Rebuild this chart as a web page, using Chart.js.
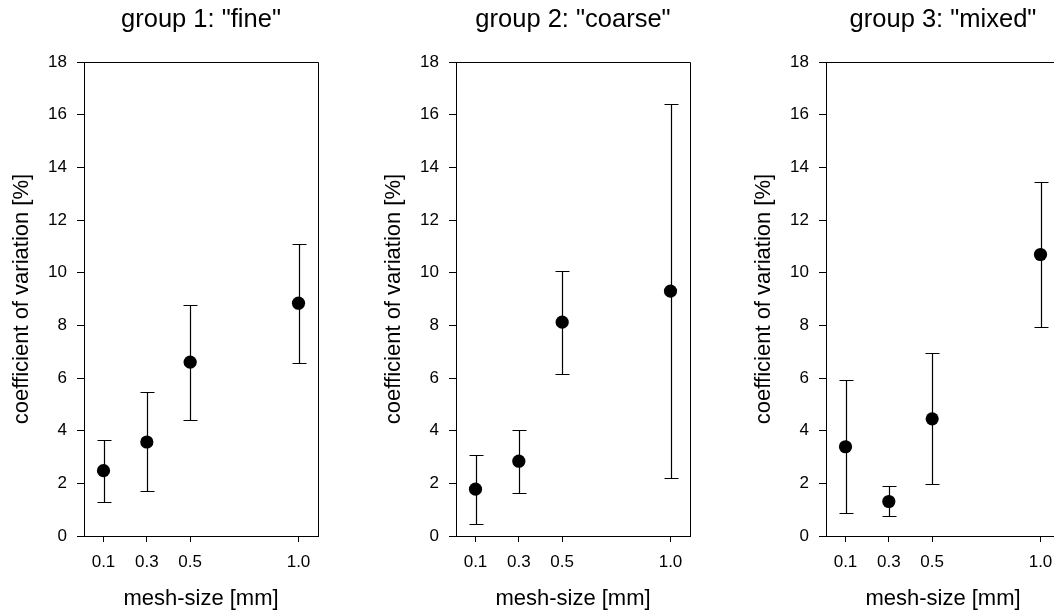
<!DOCTYPE html>
<html>
<head>
<meta charset="utf-8">
<script src="https://cdn.jsdelivr.net/npm/chart.js@4.4.1/dist/chart.umd.min.js"></script>
<style>
  html, body { margin: 0; padding: 0; background: #fff; overflow: hidden; }
  #wrap { position: relative; width: 1054px; height: 616px; overflow: hidden; }
  .panel { position: absolute; top: 0; width: 372px; height: 616px; }
</style>
</head>
<body>
<div id="wrap">
  <div class="panel" style="left:0px"><canvas id="group1"></canvas></div>
  <div class="panel" style="left:372px"><canvas id="group2"></canvas></div>
  <div class="panel" style="left:742px"><canvas id="group3"></canvas></div>
</div>
<script>
// mesh sizes on the x axis (also the tick positions)
const meshSizes = [0.1, 0.3, 0.5, 1.0];
const yTicks = [0, 2, 4, 6, 8, 10, 12, 14, 16, 18];

const groupTitles = ['group 1: "fine"', 'group 2: "coarse"', 'group 3: "mixed"'];

// coefficient of variation [%] with lower / upper ends of the error bars
const fineCV     = [2.48, 3.57, 6.60, 8.84];
const fineLow    = [1.31, 1.72, 4.40, 6.58];
const fineHigh   = [3.64, 5.45, 8.79, 11.09];

const coarseCV   = [1.78, 2.84, 8.12, 9.30];
const coarseLow  = [0.46, 1.64, 6.16, 2.19];
const coarseHigh = [3.07, 4.04, 10.06, 16.40];

const mixedCV    = [3.39, 1.31, 4.45, 10.69];
const mixedLow   = [0.87, 0.75, 1.99, 7.93];
const mixedHigh  = [5.94, 1.88, 6.94, 13.46];

const FONT = '"Liberation Sans", Arial, Helvetica, sans-serif';

// error bars with caps, drawn from the low/high arrays through the chart scales
const errorBars = {
    id: 'errorBars',
    beforeDatasetsDraw(chart, args, opts) {
        const ctx = chart.ctx;
        const xs = chart.scales.x, ys = chart.scales.y;
        ctx.save();
        ctx.strokeStyle = '#000';
        ctx.lineWidth = 1.2;
        opts.low.forEach((lo, i) => {
            const px = Math.round(xs.getPixelForValue(meshSizes[i])) + 0.5;
            const yLo = Math.round(ys.getPixelForValue(lo)) + 0.5;
            const yHi = Math.round(ys.getPixelForValue(opts.high[i])) + 0.5;
            ctx.beginPath();
            ctx.moveTo(px, yLo); ctx.lineTo(px, yHi);
            ctx.moveTo(px - 7, yLo); ctx.lineTo(px + 7, yLo);
            ctx.moveTo(px - 7, yHi); ctx.lineTo(px + 7, yHi);
            ctx.stroke();
        });
        ctx.restore();
    }
};

// top and right edges of the plot box
const frame = {
    id: 'frame',
    afterDraw(chart) {
        const {ctx, chartArea: a} = chart;
        ctx.save();
        ctx.strokeStyle = '#000';
        ctx.lineWidth = 1;
        ctx.beginPath();
        ctx.moveTo(Math.round(a.left), Math.round(a.top) + 0.5);
        ctx.lineTo(Math.round(a.right) + 0.5, Math.round(a.top) + 0.5);
        ctx.lineTo(Math.round(a.right) + 0.5, Math.round(a.bottom));
        ctx.stroke();
        ctx.restore();
    }
};

function makePanel(canvasId, title, cv, low, high) {
    const ctx = document.getElementById(canvasId).getContext('2d');
    return new Chart(ctx, {
        type: 'scatter',
        data: {
            datasets: [{
                data: meshSizes.map((m, i) => ({ x: m, y: cv[i] })),
                pointRadius: 6.6,
                pointHoverRadius: 6.6,
                backgroundColor: '#000',
                borderColor: '#000',
                borderWidth: 0
            }]
        },
        options: {
            responsive: false,
            animation: false,
            layout: { padding: { left: 0, right: 54, top: 0, bottom: 0 } },
            plugins: {
                legend: { display: false },
                tooltip: { enabled: false },
                title: {
                    display: true,
                    text: title,
                    fullSize: false,
                    color: '#000',
                    font: { family: FONT, size: 25.5, weight: 'normal' },
                    padding: { top: 5, bottom: 26.4 }
                },
                errorBars: { low: low, high: high }
            },
            scales: {
                x: {
                    type: 'linear',
                    min: 0.01,
                    max: 1.09,
                    afterBuildTicks: axis => { axis.ticks = meshSizes.map(v => ({ value: v })); },
                    afterFit: axis => { axis.height = 80; },
                    grid: { display: true, drawOnChartArea: false, drawTicks: true, tickLength: 6, color: '#000' },
                    border: { display: true, color: '#000', width: 1 },
                    ticks: {
                        color: '#000',
                        padding: 10,
                        font: { family: FONT, size: 17 },
                        callback: v => Number(v).toFixed(1)
                    },
                    title: {
                        display: true,
                        text: 'mesh-size [mm]',
                        color: '#000',
                        font: { family: FONT, size: 22 },
                        padding: { top: 0, bottom: 4 }
                    }
                },
                y: {
                    min: 0,
                    max: 18,
                    afterBuildTicks: axis => { axis.ticks = yTicks.map(v => ({ value: v })); },
                    afterFit: axis => { axis.width = 84; },
                    grid: { display: true, drawOnChartArea: false, drawTicks: true, tickLength: 7, color: '#000' },
                    border: { display: true, color: '#000', width: 1 },
                    ticks: {
                        color: '#000',
                        padding: 10,
                        font: { family: FONT, size: 17 }
                    },
                    title: {
                        display: true,
                        text: 'coefficient of variation [%]',
                        color: '#000',
                        font: { family: FONT, size: 22 },
                        padding: { top: 9, bottom: 0 }
                    }
                }
            }
        },
        plugins: [errorBars, frame]
    });
}

document.querySelectorAll('canvas').forEach(c => { c.width = 372; c.height = 616; });

makePanel('group1', groupTitles[0], fineCV, fineLow, fineHigh);
makePanel('group2', groupTitles[1], coarseCV, coarseLow, coarseHigh);
makePanel('group3', groupTitles[2], mixedCV, mixedLow, mixedHigh);
</script>
</body>
</html>
